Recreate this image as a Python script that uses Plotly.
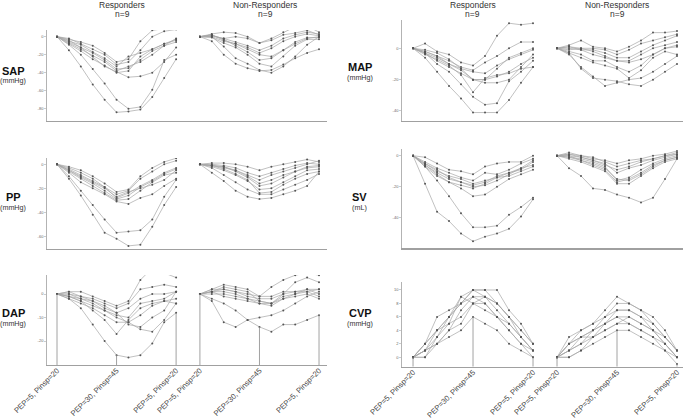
import plotly.graph_objects as go

W, H = 685, 420

# ---------------- data ----------------
step_labels = ["PEP=5, Pinsp=20", "PEP=30, Pinsp=45", "PEP=5, Pinsp=20"]
x_resp = list(range(0, 11))
x_nonresp = list(range(12, 23))
tick_positions = [0, 5, 10, 12, 17, 22]
tick_labels = step_labels + step_labels

sap_resp = [
    [0, -3, -6, -10, -18, -28, -25, -5, 7, 9, 10],
    [0, -2, -8, -14, -20, -31, -28, -15, 0, 6, 8],
    [0, -5, -9, -17, -24, -33, -22, -18, -14, -8, -3],
    [0, -6, -12, -18, -26, -36, -35, -26, -16, -10, -6],
    [0, -7, -14, -21, -28, -38, -33, -28, -20, -10, -2],
    [0, -8, -16, -25, -32, -40, -38, -22, -14, -8, -4],
    [0, -4, -12, -22, -33, -39, -45, -44, -40, -28, -12],
    [0, -15, -33, -53, -70, -84, -83, -81, -67, -46, -25],
    [0, -9, -20, -36, -52, -70, -80, -78, -59, -26, -20],
]
sap_nonresp = [
    [0, 3, 5, 4, 0, -7, -2, 5, 11, 12, 5],
    [0, 1, -2, 0, -2, -7, -4, 2, 4, 7, 2],
    [0, 2, -4, -8, -12, -18, -13, -5, 0, 3, 1],
    [0, 0, -5, -8, -14, -20, -22, -15, -8, -2, 0],
    [0, 2, -3, -10, -17, -26, -24, -15, -6, -1, -1],
    [0, -1, -7, -12, -20, -30, -33, -22, -10, -3, -3],
    [0, 0, -11, -24, -30, -37, -40, -33, -22, -9, 0],
    [0, -5, -20, -30, -35, -38, -37, -31, -24, -18, -14],
    [0, 1, -2, -6, -10, -15, -10, -2, 2, 5, 3],
]
pp_resp = [
    [0, -2, -5, -10, -16, -23, -21, -10, -3, 2, 5],
    [0, -3, -7, -12, -19, -25, -22, -12, -6, 0, 3],
    [0, -4, -9, -14, -19, -28, -24, -18, -13, -7, -3],
    [0, -5, -11, -16, -22, -29, -26, -19, -14, -8, -4],
    [0, -6, -12, -18, -24, -30, -29, -22, -15, -9, -7],
    [0, -7, -15, -20, -25, -31, -33, -28, -25, -18, -12],
    [0, -5, -10, -15, -20, -27, -23, -20, -17, -13, -5],
    [0, -12, -26, -42, -57, -62, -68, -67, -52, -34, -19],
    [0, -10, -22, -34, -46, -57, -56, -55, -46, -27, -13],
]
pp_nonresp = [
    [0, 1, 1, 0, -2, -5, -2, 0, 2, 4, 2],
    [0, 0, -1, -3, -7, -10, -7, -4, -1, 1, 0],
    [0, -1, -3, -5, -10, -16, -13, -9, -6, -3, -2],
    [0, -1, -2, -6, -11, -18, -16, -11, -6, -2, -1],
    [0, -2, -5, -9, -14, -21, -20, -15, -10, -5, -4],
    [0, -1, -4, -8, -13, -24, -23, -17, -12, -8, -6],
    [0, -3, -9, -15, -21, -25, -25, -21, -17, -13, -8],
    [0, -7, -14, -22, -27, -29, -28, -25, -22, -18, -6],
    [0, -1, -2, -5, -9, -13, -9, -6, -3, 0, 3],
]
dap_resp = [
    [0, 1, 1, -1, -3, -5, -3, 6, 11, 9, 7],
    [0, 0, -1, -2, -4, -6, -4, 2, 3, 4, 3],
    [0, -1, -2, -3, -5, -8, -6, -2, 0, 0, 1],
    [0, 0, -2, -4, -7, -9, -10, -4, -3, -2, 1],
    [0, -1, -3, -5, -7, -10, -12, -9, -5, -3, -4],
    [0, -2, -4, -6, -9, -12, -12, -15, -16, -11, -4],
    [0, -1, -3, -7, -11, -17, -11, -6, -4, -3, -2],
    [0, -2, -6, -13, -20, -26, -27, -26, -21, -12, -8],
    [0, 1, -1, -3, -6, -8, -13, -14, -10, -7, 1],
]
dap_nonresp = [
    [0, 2, 4, 3, 2, -1, 3, 6, 8, 9, 8],
    [0, 1, 3, 2, 1, -3, -4, 0, 5, 7, 5],
    [0, 2, 2, 1, 0, -1, -1, 1, 1, 2, 2],
    [0, 1, 1, 0, -2, -3, -4, -1, 0, 1, 2],
    [0, 0, 0, -1, -2, -4, -5, -2, -1, 0, -2],
    [0, 1, -1, -2, -3, -4, -4, -2, 0, 2, 0],
    [0, -3, -12, -14, -11, -10, -9, -7, -4, -1, 1],
    [0, -2, -4, -7, -11, -14, -16, -13, -13, -11, -9],
    [0, 1, 2, 1, -1, -2, -2, 0, 1, 1, -1],
]
map_resp = [
    [0, 3, -2, -4, -9, -11, -5, 8, 16, 15, 16],
    [0, -2, -5, -8, -12, -14, -9, -5, 0, 4, 4],
    [0, -3, -6, -10, -13, -15, -16, -11, -7, -4, -1],
    [0, -1, -3, -7, -13, -20, -20, -13, -6, -3, 0],
    [0, -2, -5, -10, -14, -20, -22, -22, -20, -12, -4],
    [0, -4, -7, -11, -17, -28, -19, -17, -16, -13, -12],
    [0, -3, -8, -12, -16, -20, -20, -18, -15, -10, -6],
    [0, -6, -15, -24, -32, -41, -41, -41, -33, -22, -12],
    [0, -3, -10, -15, -23, -31, -36, -35, -21, -15, -8],
]
map_nonresp = [
    [0, 2, 5, 1, 0, -2, 1, 5, 10, 10, 11],
    [0, 1, 0, 0, -1, -4, -1, 3, 5, 7, 9],
    [0, 0, -1, -1, -3, -6, -6, -2, 2, 5, 8],
    [0, -1, 0, -2, -5, -8, -8, -4, 0, 2, 4],
    [0, -2, -4, -8, -8, -12, -15, -11, -4, 0, 2],
    [0, -3, -6, -9, -11, -13, -19, -14, -6, -2, -4],
    [0, -4, -12, -18, -24, -22, -20, -19, -15, -10, -5],
    [0, -3, -13, -19, -20, -21, -23, -24, -20, -15, -10],
    [0, 1, -1, -4, -6, -8, -9, -7, -4, 0, 1],
]
sv_resp = [
    [0, -1, -5, -9, -10, -12, -7, -5, -4, -4, 0],
    [0, -4, -8, -11, -14, -16, -11, -12, -9, -5, -2],
    [0, -5, -10, -13, -15, -18, -16, -14, -11, -8, -3],
    [0, -6, -11, -15, -17, -20, -19, -16, -12, -8, -6],
    [0, -6, -12, -17, -19, -21, -18, -14, -13, -10, -7],
    [0, -7, -13, -17, -21, -26, -25, -20, -15, -12, -9],
    [0, -5, -9, -14, -17, -19, -17, -13, -11, -9, -4],
    [0, -18, -36, -42, -50, -55, -52, -50, -47, -39, -28],
    [0, -7, -16, -26, -37, -46, -46, -45, -38, -33, -27],
]
sv_nonresp = [
    [0, 2, 0, -2, -3, -5, -3, -2, 0, 1, 3],
    [0, 1, 0, -1, -4, -7, -5, -3, -2, 0, 2],
    [0, 0, -1, -3, -5, -11, -8, -6, -3, -1, 1],
    [0, -1, -2, -4, -7, -16, -14, -9, -5, -2, 0],
    [0, -1, -3, -6, -9, -17, -15, -11, -6, -3, -1],
    [0, -2, -4, -7, -10, -18, -18, -13, -8, -4, -2],
    [0, 0, -3, -5, -8, -15, -16, -12, -7, -3, -1],
    [0, -8, -13, -21, -22, -25, -27, -30, -27, -15, -2],
    [0, 1, -1, -3, -6, -9, -7, -4, -2, 0, 1],
]
cvp_resp = [
    [0, 0, 3, 6, 8, 10, 10, 8, 6, 4, 2],
    [0, 2, 4, 6, 8, 10, 10, 10, 7, 5, 2],
    [0, 1, 3, 5, 9, 10, 9, 8, 6, 3, 1],
    [0, 1, 2, 4, 7, 9, 8, 6, 5, 3, 1],
    [0, 2, 6, 7, 8, 9, 9, 7, 5, 3, 1],
    [0, 1, 4, 6, 9, 8, 9, 8, 6, 4, 2],
    [0, 0, 2, 4, 5, 8, 7, 6, 4, 2, 0],
    [0, 1, 2, 3, 4, 6, 5, 4, 2, 1, 0],
    [0, 2, 4, 5, 6, 8, 8, 6, 4, 2, 1],
]
cvp_nonresp = [
    [0, 3, 4, 5, 7, 9, 8, 7, 6, 4, 1],
    [0, 2, 3, 4, 6, 8, 8, 7, 5, 3, 1],
    [0, 1, 2, 4, 5, 7, 7, 6, 4, 2, 0],
    [0, 2, 3, 4, 5, 6, 6, 5, 4, 3, 1],
    [0, 1, 3, 3, 4, 5, 5, 4, 3, 2, 0],
    [0, 0, 1, 2, 3, 4, 4, 3, 2, 1, -1],
    [0, 1, 2, 3, 5, 6, 5, 4, 3, 1, 0],
    [0, 2, 4, 5, 6, 7, 7, 6, 5, 3, 1],
    [0, 0, 1, 3, 4, 5, 6, 5, 4, 2, 0],
]

sap_ticks = [0, -20, -40, -60, -80]
pp_ticks = [0, -20, -40, -60]
dap_ticks = [0, -10, -20]
map_ticks = [0, -20, -40]
sv_ticks = [0, -20, -40, -60]
cvp_ticks = [0, 2, 4, 6, 8, 10]

# ---------------- layout helpers ----------------
def px_x(p):
    return p / W

def px_y(p):
    return 1 - p / H

LEFT_X = dict(dom=(47, 327), rng=(-0.84, 22.67))
RIGHT_X = dict(dom=(402, 683), rng=(-0.92, 22.5))

panels = [
    dict(name="SAP", unit="(mmHg)", r=sap_resp, n=sap_nonresp, xs=LEFT_X, ydom=(30, 120.7), yr=(-93.3, 7.4), ticks=sap_ticks, bottom=False, lab=(13, 71)),
    dict(name="PP", unit="(mmHg)", r=pp_resp, n=pp_nonresp, xs=LEFT_X, ydom=(158, 249), yr=(-70.6, 5.25), ticks=pp_ticks, bottom=False, lab=(13, 197)),
    dict(name="DAP", unit="(mmHg)", r=dap_resp, n=dap_nonresp, xs=LEFT_X, ydom=(275, 365), yr=(-30.2, 8.1), ticks=dap_ticks, bottom=True, lab=(13, 313)),
    dict(name="MAP", unit="(mmHg)", r=map_resp, n=map_nonresp, xs=RIGHT_X, ydom=(20, 121), yr=(-46.4, 18.05), ticks=map_ticks, bottom=False, lab=(360, 67)),
    dict(name="SV", unit="(mL)", r=sv_resp, n=sv_nonresp, xs=RIGHT_X, ydom=(149, 248.3), yr=(-59.5, 4.3), ticks=sv_ticks, bottom=False, lab=(359, 197)),
    dict(name="CVP", unit="(mmHg)", r=cvp_resp, n=cvp_nonresp, xs=RIGHT_X, ydom=(281.7, 366.7), yr=(-1.4, 11.23), ticks=cvp_ticks, bottom=True, lab=(360, 313)),
]

LINE_COL = "#a6a6a6"
MARK_COL = "#555555"
AXIS_COL = "#a0a0a0"

fig = go.Figure()
layout = dict(
    template="none",
    width=W, height=H, autosize=False,
    margin=dict(l=0, r=0, t=0, b=0, pad=0),
    paper_bgcolor="white", plot_bgcolor="white",
    showlegend=False,
    font=dict(family="Liberation Sans, Arial, sans-serif", color="#333"),
)
annotations = []

def group_xy(series, xs):
    X, Y = [], []
    for s in series:
        X += list(xs) + [None]
        Y += list(s) + [None]
    return X, Y

for i, p in enumerate(panels, start=1):
    xa = "x" if i == 1 else f"x{i}"
    ya = "y" if i == 1 else f"y{i}"
    xk = "xaxis" if i == 1 else f"xaxis{i}"
    yk = "yaxis" if i == 1 else f"yaxis{i}"

    for series, xs in ((p["r"], x_resp), (p["n"], x_nonresp)):
        X, Y = group_xy(series, xs)
        fig.add_trace(go.Scatter(
            x=X, y=Y, xaxis=xa, yaxis=ya, mode="lines+markers",
            line=dict(color=LINE_COL, width=0.7),
            marker=dict(color=MARK_COL, size=2),
            hoverinfo="skip", connectgaps=False,
        ))

    if p["bottom"]:
        # drop lines from the lowest series value at each labelled step
        DX, DY = [], []
        for series, xs in ((p["r"], x_resp), (p["n"], x_nonresp)):
            for k in (0, 5, 10):
                lo = min(s[k] for s in series)
                DX += [xs[k], xs[k], None]
                DY += [lo, p["yr"][0], None]
        fig.add_trace(go.Scatter(
            x=DX, y=DY, xaxis=xa, yaxis=ya, mode="lines",
            line=dict(color="#8a8a8a", width=0.8), hoverinfo="skip",
        ))

    xd = p["xs"]["dom"]
    layout[xk] = dict(
        domain=[px_x(xd[0]), px_x(xd[1])], range=list(p["xs"]["rng"]),
        anchor=ya, showgrid=False, zeroline=False, automargin=False,
        showline=True, linecolor=AXIS_COL, linewidth=1.2,
        tickmode="array",
        tickvals=tick_positions if p["bottom"] else [],
        ticktext=tick_labels if p["bottom"] else [],
        ticks="", tickangle=-45, ticklabelstandoff=-3,
        tickfont=dict(size=7.6, color="#444"),
    )
    yd = p["ydom"]
    layout[yk] = dict(
        domain=[px_y(yd[1]), px_y(yd[0])], range=list(p["yr"]),
        anchor=xa, showgrid=False, zeroline=False, automargin=False,
        showline=True, linecolor=AXIS_COL, linewidth=0.8,
        tickmode="array", tickvals=p["ticks"], ticktext=[str(t) for t in p["ticks"]],
        ticks="outside", ticklen=2, tickcolor="#999", tickwidth=0.5,
        tickfont=dict(size=4, color="#666"),
    )

    lx, ly = p["lab"]
    annotations.append(dict(
        text=f"<b>{p['name']}</b>", x=px_x(lx), y=px_y(ly), xref="paper", yref="paper",
        showarrow=False, xanchor="center", yanchor="middle",
        font=dict(size=11, color="#111"),
    ))
    annotations.append(dict(
        text=p["unit"], x=px_x(lx), y=px_y(ly + 10), xref="paper", yref="paper",
        showarrow=False, xanchor="center", yanchor="middle",
        font=dict(size=7.2, color="#333"),
    ))

headers = [("Responders", 122), ("Non-Responders", 265), ("Responders", 473), ("Non-Responders", 617)]
for txt, cx in headers:
    annotations.append(dict(
        text=txt, x=px_x(cx), y=px_y(5.5), xref="paper", yref="paper",
        showarrow=False, xanchor="center", yanchor="middle",
        font=dict(size=8.5, color="#333"),
    ))
    annotations.append(dict(
        text="n=9", x=px_x(cx), y=px_y(14.5), xref="paper", yref="paper",
        showarrow=False, xanchor="center", yanchor="middle",
        font=dict(size=8.5, color="#333"),
    ))

layout["annotations"] = annotations
fig.update_layout(**layout)
fig.write_html(
    "out.html",
    config={"displayModeBar": False, "staticPlot": True},
    post_script="document.body.style.margin='0';document.body.style.overflow='hidden';",
)
